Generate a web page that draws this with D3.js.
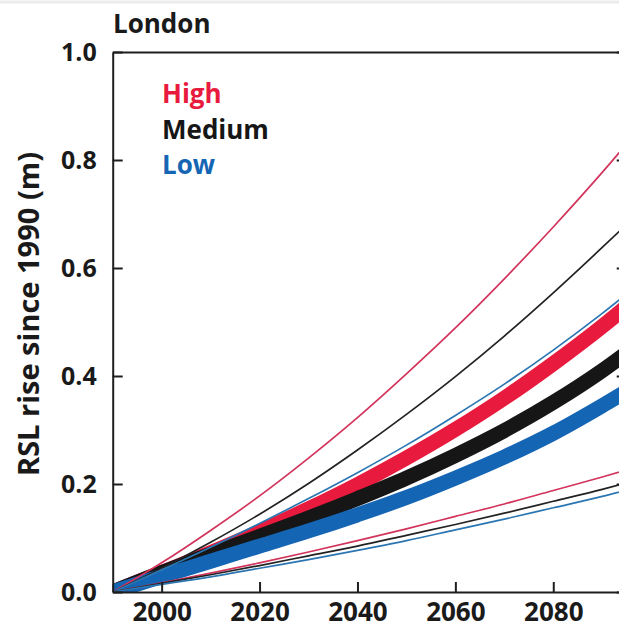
<!DOCTYPE html>
<html>
<head>
<meta charset="utf-8">
<script src="https://cdn.jsdelivr.net/npm/d3@7"></script>
<style>
  body { margin: 0; background: #fff; }
  text { font-family: "Open Sans", sans-serif; font-weight: 700; fill: #1a1a1a; }
</style>
</head>
<body>
<div id="wrapper"></div>
<script>
// values (metres of rise since 1990)
const years = [1990, 2000, 2010, 2020, 2030, 2040, 2050, 2060, 2070, 2080, 2090, 2095]

const highUpper   = [0, 0.054, 0.114, 0.178, 0.248, 0.323, 0.404, 0.489, 0.580, 0.676, 0.777, 0.830]
const highCentral = [0, 0.036, 0.073, 0.112, 0.154, 0.199, 0.248, 0.301, 0.359, 0.423, 0.492, 0.529]
const highLower   = [0, 0.017, 0.035, 0.054, 0.074, 0.095, 0.117, 0.140, 0.163, 0.188, 0.213, 0.226]

const mediumUpper   = [0, 0.044, 0.092, 0.144, 0.201, 0.263, 0.329, 0.399, 0.474, 0.554, 0.638, 0.681]
const mediumCentral = [0, 0.036, 0.070, 0.103, 0.137, 0.173, 0.211, 0.253, 0.299, 0.351, 0.410, 0.443]
const mediumLower   = [0, 0.016, 0.032, 0.049, 0.067, 0.085, 0.105, 0.125, 0.146, 0.168, 0.190, 0.202]

const lowUpper   = [0, 0.041, 0.083, 0.127, 0.173, 0.221, 0.272, 0.327, 0.385, 0.448, 0.516, 0.552]
const lowCentral = [0, 0.029, 0.057, 0.085, 0.113, 0.143, 0.175, 0.211, 0.250, 0.294, 0.345, 0.372]
const lowLower   = [0, 0.014, 0.028, 0.044, 0.060, 0.077, 0.095, 0.115, 0.135, 0.156, 0.177, 0.189]

const xTicks = [2000, 2020, 2040, 2060, 2080]
const yTicks = [0.0, 0.2, 0.4, 0.6, 0.8, 1.0]
const legendLabels = ["High", "Medium", "Low"]
const chartTitle = "London"
const yLabel = "RSL rise since 1990 (m)"

function drawChart(){
    const colors = {
        High:   {thick: "#e81a3d", thin: "#d2345c"},
        Medium: {thick: "#161616", thin: "#222222"},
        Low:    {thick: "#1565b5", thin: "#2b76b2"},
    }

    let dimensions = {
        width: 619,
        height: 629,
        margin: {
            top: 52,
            left: 112.7,
            bottom: 37,
        },
        boundedWidth: 514,
    }
    dimensions.boundedHeight = dimensions.height - dimensions.margin.top - dimensions.margin.bottom

    const wrapper = d3.select("#wrapper").append("svg")
        .attr("width", dimensions.width)
        .attr("height", dimensions.height)

    // faint scan edge at the very top
    wrapper.append("line")
        .attr("x1", 0).attr("x2", dimensions.width)
        .attr("y1", 2).attr("y2", 2)
        .attr("stroke", "#ececec")
        .attr("stroke-width", 3)

    const bounds = wrapper.append("g")
        .attr("transform", `translate(${dimensions.margin.left},${dimensions.margin.top})`)

    //scales
    const xScale = d3.scaleLinear()
        .domain([1990, 2095])
        .range([0, dimensions.boundedWidth])

    const yScale = d3.scaleLinear()
        .domain([0, 1])
        .range([dimensions.boundedHeight, 0])

    bounds.append("clipPath")
        .attr("id", "plot-clip")
      .append("rect")
        .attr("width", dimensions.boundedWidth)
        .attr("height", dimensions.boundedHeight)

    const lineGenerator = d3.line()
        .x((d, i) => xScale(years[i]))
        .y(d => yScale(d))
        .curve(d3.curveMonotoneX)

    const lines = bounds.append("g").attr("clip-path", "url(#plot-clip)")

    // thick central lines: red, black, then blue on top
    const thick = [["High", highCentral], ["Medium", mediumCentral], ["Low", lowCentral]]
    thick.forEach(([name, values]) => {
        lines.append("path")
            .attr("d", lineGenerator(values))
            .attr("fill", "none")
            .attr("stroke", colors[name].thick)
            .attr("stroke-width", 15)
    })

    // thin bounds
    const thin = [
        ["High", highUpper], ["Medium", mediumUpper], ["Low", lowUpper],
        ["High", highLower], ["Medium", mediumLower], ["Low", lowLower],
    ]
    thin.forEach(([name, values]) => {
        lines.append("path")
            .attr("d", lineGenerator(values))
            .attr("fill", "none")
            .attr("stroke", colors[name].thin)
            .attr("stroke-width", 1.7)
    })

    //axes, ticks pointing inwards
    const yAxis = bounds.append("g")
        .call(d3.axisLeft(yScale)
            .tickValues(yTicks)
            .tickFormat(d3.format(".1f"))
            .tickSizeInner(-10)
            .tickSizeOuter(0)
            .tickPadding(16))
    yAxis.selectAll("text").style("font-size", "25px")

    const xAxis = bounds.append("g")
        .attr("transform", `translate(0,${dimensions.boundedHeight})`)
        .call(d3.axisBottom(xScale)
            .tickValues(xTicks)
            .tickFormat(d3.format("d"))
            .tickSizeInner(-10)
            .tickSizeOuter(0)
            .tickPadding(11))
    xAxis.selectAll("text").style("font-size", "26px")

    const rightAxis = bounds.append("g")
        .attr("transform", `translate(${dimensions.boundedWidth},0)`)
        .call(d3.axisRight(yScale)
            .tickValues(yTicks)
            .tickFormat("")
            .tickSizeInner(-10)
            .tickSizeOuter(0))

    const topAxis = bounds.append("g")
        .call(d3.axisTop(xScale).tickValues([]).tickSizeOuter(0))

    bounds.selectAll(".domain, .tick line")
        .attr("stroke", "#1e1e1e")
        .attr("stroke-width", 2)
    bounds.selectAll(".tick text").attr("fill", "#1a1a1a")

    //title and label
    wrapper.append("text")
        .attr("x", 113)
        .attr("y", 33)
        .style("font-size", "26px")
        .text(chartTitle)

    wrapper.append("text")
        .attr("transform", "translate(39,314) rotate(-90)")
        .attr("text-anchor", "middle")
        .style("font-size", "29px")
        .text(yLabel)

    //legend
    wrapper.append("g")
        .selectAll("text")
        .data(legendLabels)
        .join("text")
        .attr("x", 162)
        .attr("y", (d, i) => 103 + i * 35.5)
        .style("font-size", "26px")
        .style("fill", d => colors[d].thick)
        .text(d => d)
}

drawChart()
</script>
</body>
</html>
